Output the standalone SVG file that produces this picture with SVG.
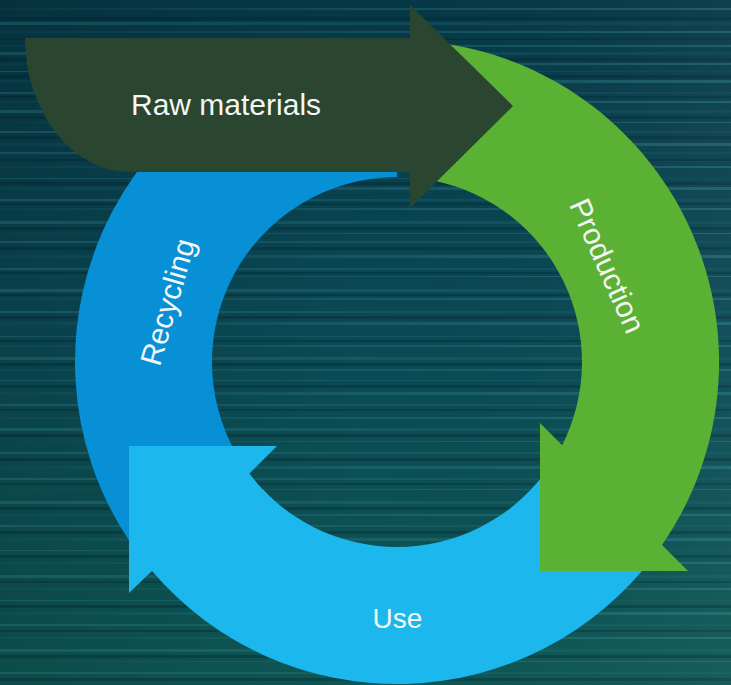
<svg xmlns="http://www.w3.org/2000/svg" width="731" height="685" viewBox="0 0 731 685">
  <defs>
    <linearGradient id="bg" x1="0" y1="0" x2="0" y2="1">
      <stop offset="0" stop-color="#063846"/>
      <stop offset="0.45" stop-color="#0a4854"/>
      <stop offset="1" stop-color="#0e5755"/>
    </linearGradient>
    <linearGradient id="side" x1="0" y1="0" x2="1" y2="0">
      <stop offset="0" stop-color="#000" stop-opacity="0.12"/>
      <stop offset="0.5" stop-color="#000" stop-opacity="0"/>
      <stop offset="1" stop-color="#fff" stop-opacity="0.04"/>
    </linearGradient>
    <linearGradient id="lr" x1="0" y1="0" x2="1" y2="0">
      <stop offset="0" stop-color="#3f9aa6" stop-opacity="0.06"/>
      <stop offset="0.5" stop-color="#3f9aa6" stop-opacity="0.22"/>
      <stop offset="1" stop-color="#3f9aa6" stop-opacity="0.32"/>
    </linearGradient>
    <linearGradient id="rl" x1="0" y1="0" x2="1" y2="0">
      <stop offset="0" stop-color="#3f9aa6" stop-opacity="0.3"/>
      <stop offset="0.6" stop-color="#3f9aa6" stop-opacity="0.15"/>
      <stop offset="1" stop-color="#3f9aa6" stop-opacity="0.08"/>
    </linearGradient>
    <style>
      .a { fill: url(#lr); }
      .b { fill: url(#rl); }
      .d { fill: #021f29; opacity: 0.3; }
      .lbl { font-family: "Liberation Sans", Arial, sans-serif; fill: #f4f6f4; }
    </style>
  </defs>

  <!-- streaked teal backdrop -->
  <rect width="731" height="685" fill="url(#bg)"/>
  <g id="streaks">
    <rect class="a" x="0" y="8" width="731" height="2"/>
    <rect class="d" x="0" y="17" width="731" height="3"/>
    <rect class="b" x="0" y="22" width="731" height="3"/>
    <rect class="a" x="0" y="31" width="731" height="2"/>
    <rect class="d" x="0" y="38" width="731" height="2"/>
    <rect class="a" x="0" y="45" width="731" height="2"/>
    <rect class="b" x="0" y="52" width="731" height="3"/>
    <rect class="d" x="0" y="58" width="731" height="3"/>
    <rect class="a" x="0" y="63" width="731" height="2"/>
    <rect class="b" x="0" y="71" width="731" height="1"/>
    <rect class="d" x="0" y="75" width="731" height="3"/>
    <rect class="a" x="0" y="80" width="731" height="3"/>
    <rect class="b" x="0" y="92" width="731" height="2"/>
    <rect class="d" x="0" y="96" width="731" height="2"/>
    <rect class="a" x="0" y="101" width="731" height="2"/>
    <rect class="b" x="0" y="110" width="731" height="3"/>
    <rect class="d" x="0" y="116" width="731" height="3"/>
    <rect class="a" x="0" y="122" width="731" height="1"/>
    <rect class="b" x="0" y="131" width="731" height="2"/>
    <rect class="d" x="0" y="136" width="731" height="3"/>
    <rect class="a" x="0" y="143" width="731" height="3"/>
    <rect class="b" x="0" y="152" width="731" height="2"/>
    <rect class="d" x="0" y="159" width="731" height="2"/>
    <rect class="a" x="0" y="166" width="731" height="2"/>
    <rect class="b" x="0" y="178" width="731" height="1"/>
    <rect class="d" x="0" y="182" width="731" height="3"/>
    <rect class="a" x="0" y="187" width="731" height="3"/>
    <rect class="b" x="0" y="199" width="731" height="2"/>
    <rect class="d" x="0" y="203" width="731" height="2"/>
    <rect class="a" x="0" y="208" width="731" height="2"/>
    <rect class="b" x="0" y="221" width="731" height="3"/>
    <rect class="d" x="0" y="227" width="731" height="3"/>
    <rect class="a" x="0" y="233" width="731" height="1"/>
    <rect class="b" x="0" y="241" width="731" height="2"/>
    <rect class="d" x="0" y="247" width="731" height="3"/>
    <rect class="a" x="0" y="255" width="731" height="3"/>
    <rect class="b" x="0" y="268" width="731" height="2"/>
    <rect class="d" x="0" y="272" width="731" height="2"/>
    <rect class="a" x="0" y="276" width="731" height="1"/>
    <rect class="b" x="0" y="289" width="731" height="3"/>
    <rect class="d" x="0" y="294" width="731" height="2"/>
    <rect class="a" x="0" y="298" width="731" height="2"/>
    <rect class="b" x="0" y="311" width="731" height="2"/>
    <rect class="d" x="0" y="316" width="731" height="3"/>
    <rect class="a" x="0" y="322" width="731" height="3"/>
    <rect class="b" x="0" y="336" width="731" height="1"/>
    <rect class="d" x="0" y="340" width="731" height="2"/>
    <rect class="a" x="0" y="345" width="731" height="2"/>
    <rect class="b" x="0" y="357" width="731" height="3"/>
    <rect class="d" x="0" y="363" width="731" height="3"/>
    <rect class="a" x="0" y="369" width="731" height="2"/>
    <rect class="b" x="0" y="380" width="731" height="1"/>
    <rect class="d" x="0" y="385" width="731" height="3"/>
    <rect class="a" x="0" y="392" width="731" height="3"/>
    <rect class="b" x="0" y="404" width="731" height="2"/>
    <rect class="d" x="0" y="409" width="731" height="2"/>
    <rect class="a" x="0" y="417" width="731" height="2"/>
    <rect class="b" x="0" y="428" width="731" height="3"/>
    <rect class="d" x="0" y="434" width="731" height="3"/>
    <rect class="a" x="0" y="441" width="731" height="1"/>
    <rect class="b" x="0" y="452" width="731" height="2"/>
    <rect class="d" x="0" y="458" width="731" height="3"/>
    <rect class="a" x="0" y="466" width="731" height="3"/>
    <rect class="b" x="0" y="478" width="731" height="2"/>
    <rect class="d" x="0" y="483" width="731" height="2"/>
    <rect class="a" x="0" y="489" width="731" height="1"/>
    <rect class="b" x="0" y="501" width="731" height="3"/>
    <rect class="d" x="0" y="507" width="731" height="3"/>
    <rect class="a" x="0" y="514" width="731" height="2"/>
    <rect class="b" x="0" y="525" width="731" height="2"/>
    <rect class="d" x="0" y="531" width="731" height="3"/>
    <rect class="a" x="0" y="538" width="731" height="3"/>
    <rect class="b" x="0" y="550" width="731" height="1"/>
    <rect class="d" x="0" y="555" width="731" height="3"/>
    <rect class="a" x="0" y="562" width="731" height="2"/>
    <rect class="b" x="0" y="575" width="731" height="3"/>
    <rect class="d" x="0" y="581" width="731" height="2"/>
    <rect class="a" x="0" y="588" width="731" height="2"/>
    <rect class="b" x="0" y="600" width="731" height="1"/>
    <rect class="d" x="0" y="605" width="731" height="3"/>
    <rect class="a" x="0" y="612" width="731" height="3"/>
    <rect class="b" x="0" y="624" width="731" height="2"/>
    <rect class="d" x="0" y="630" width="731" height="2"/>
    <rect class="a" x="0" y="637" width="731" height="2"/>
    <rect class="b" x="0" y="649" width="731" height="3"/>
    <rect class="d" x="0" y="655" width="731" height="3"/>
    <rect class="a" x="0" y="661" width="731" height="1"/>
    <rect class="b" x="0" y="672" width="731" height="2"/>
    <rect class="d" x="0" y="678" width="731" height="3"/>
  </g>
  <rect width="731" height="685" fill="url(#side)"/>

  <!-- cycle ring segments, centre (397,362), radii 185 / 322 -->
  <g id="recycling">
    <path d="M130.1,542.1 A322,322 0 0 1 397,40 L397,177 A185,185 0 0 0 243.6,465.4 Z" fill="#0890d6"/>
    <text class="lbl" font-size="30" text-anchor="middle" dy="10" transform="translate(168,302) rotate(-74)">Recycling</text>
  </g>

  <g id="use">
    <path d="M654.2,555.8 A322,322 0 0 1 152,571 L129,593 L129,446 L277,446 L249.4,473.6 A185,185 0 0 0 544.7,473.3 Z" fill="#1bb7ed"/>
    <text class="lbl" x="397.5" y="628" font-size="28" text-anchor="middle">Use</text>
  </g>

  <g id="production">
    <path d="M444.6,43.5 A322,322 0 0 1 662,545 L688,571 L540,571 L540,423 L562.2,445.2 A185,185 0 0 0 435.5,181 Z" fill="#5bb133"/>
    <text class="lbl" font-size="30" text-anchor="middle" dy="10" transform="translate(607,266) rotate(66)">Production</text>
  </g>

  <g id="raw-materials">
    <path d="M25,38 L410,38 L410,5 L513,106 L410,208 L410,172 L130,172 A105,134 0 0 1 25,38 Z" fill="#2a4530"/>
    <text class="lbl" x="131" y="115" font-size="30">Raw materials</text>
  </g>

  <g id="connectors"/>
</svg>
